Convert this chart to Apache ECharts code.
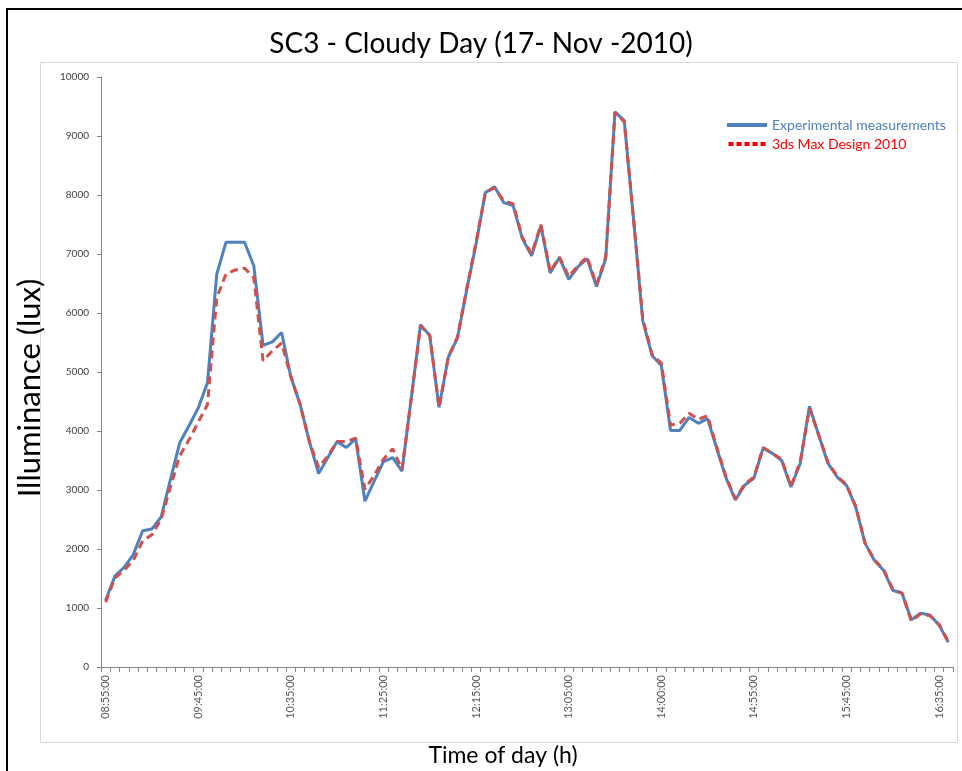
<!DOCTYPE html>
<html>
<head>
<meta charset="utf-8">
<script src="https://cdn.jsdelivr.net/npm/echarts@6/dist/echarts.min.js"></script>
<style>
  html, body { margin: 0; padding: 0; background: #fff; }
  #chart { width: 962px; height: 771px; }
</style>
</head>
<body>
<div id="chart"></div>
<script>
// time of day, one sample every ~5 min
const times = [
  '08:55:00', '09:00:00', '09:05:00', '09:10:00', '09:15:00', '09:20:00', '09:25:00', '09:30:00', '09:35:00', '09:40:00',
  '09:45:00', '09:50:00', '09:55:00', '10:00:00', '10:05:00', '10:10:00', '10:15:00', '10:20:00', '10:25:00', '10:30:00',
  '10:35:00', '10:40:00', '10:45:00', '10:50:00', '10:55:00', '11:00:00', '11:05:00', '11:10:00', '11:15:00', '11:20:00',
  '11:25:00', '11:30:00', '11:35:00', '11:40:00', '11:45:00', '11:50:00', '11:55:00', '12:00:00', '12:05:00', '12:10:00',
  '12:15:00', '12:20:00', '12:25:00', '12:30:00', '12:35:00', '12:40:00', '12:45:00', '12:50:00', '12:55:00', '13:00:00',
  '13:05:00', '13:10:00', '13:15:00', '13:20:00', '13:25:00', '13:30:00', '13:35:00', '13:40:00', '13:45:00', '13:55:00',
  '14:00:00', '14:05:00', '14:10:00', '14:15:00', '14:20:00', '14:25:00', '14:30:00', '14:35:00', '14:40:00', '14:50:00',
  '14:55:00', '15:00:00', '15:05:00', '15:10:00', '15:15:00', '15:20:00', '15:25:00', '15:30:00', '15:35:00', '15:40:00',
  '15:45:00', '15:50:00', '15:55:00', '16:00:00', '16:05:00', '16:10:00', '16:15:00', '16:20:00', '16:25:00', '16:30:00',
  '16:35:00', '16:40:00'
];

const measured = [
  1130, 1540, 1690, 1910, 2310, 2340, 2545, 3180, 3800, 4090,
  4390, 4820, 6660, 7200, 7200, 7200, 6800, 5450, 5510, 5670,
  4920, 4450, 3820, 3280, 3550, 3820, 3720, 3870, 2810, 3150,
  3480, 3550, 3320, 4550, 5800, 5620, 4400, 5250, 5580, 6400,
  7170, 8040, 8140, 7870, 7820, 7260, 6970, 7480, 6680, 6940,
  6570, 6780, 6920, 6450, 6920, 9410, 9260, 7600, 5870, 5280,
  5110, 4010, 4010, 4230, 4130, 4210, 3700, 3200, 2830, 3080,
  3200, 3710, 3620, 3500, 3050, 3450, 4420, 3930, 3450, 3220,
  3080, 2710, 2100, 1810, 1640, 1300, 1250, 800, 910, 880,
  710, 420
];

const simulated = [
  1100, 1510, 1640, 1810, 2140, 2240, 2510, 3050, 3580, 3850,
  4150, 4450, 6260, 6660, 6730, 6760, 6600, 5190, 5360, 5490,
  4920, 4450, 3820, 3380, 3580, 3820, 3820, 3880, 3010, 3250,
  3520, 3700, 3350, 4550, 5780, 5620, 4400, 5250, 5600, 6420,
  7200, 8040, 8120, 7900, 7850, 7280, 7000, 7500, 6700, 6950,
  6620, 6800, 6950, 6480, 6950, 9400, 9240, 7600, 5900, 5300,
  5150, 4100, 4130, 4300, 4200, 4260, 3720, 3220, 2850, 3100,
  3220, 3720, 3620, 3520, 3060, 3480, 4380, 3930, 3470, 3230,
  3090, 2720, 2100, 1820, 1650, 1320, 1250, 780, 900, 870,
  720, 430
];

const font = 'Lato, "Open Sans", sans-serif';
// five small squares, like the dotted legend key
const dotted = 'path://M0,0h5v4h-5z M8,0h5v4h-5z M16,0h5v4h-5z M24,0h5v4h-5z M32,0h5v4h-5z';
const chart = echarts.init(document.getElementById('chart'));

chart.setOption({
  backgroundColor: '#fff',
  animation: false,
  title: {
    text: 'SC3 - Cloudy Day (17- Nov -2010)',
    left: 'center',
    top: 25,
    textStyle: { fontFamily: font, fontSize: 28, fontWeight: 'normal', color: '#000' }
  },
  legend: {
    orient: 'vertical',
    left: 727,
    top: 118,
    padding: 0,
    itemWidth: 40,
    itemHeight: 4,
    itemGap: 5,
    textStyle: { fontFamily: font, fontSize: 14 },
    data: [
      { name: 'Experimental measurements', icon: 'rect', textStyle: { color: '#4F81BD' },
        itemStyle: { color: '#4F81BD' } },
      { name: '3ds Max Design 2010', icon: dotted, textStyle: { color: '#FF0000' },
        itemStyle: { color: '#FF0000' } }
    ]
  },
  grid: { left: 101, right: 9, top: 77, bottom: 104 },
  xAxis: {
    type: 'category',
    data: times,
    boundaryGap: true,
    axisLine: { lineStyle: { color: '#868686', width: 1 } },
    axisTick: { show: true, interval: 0, length: 5, lineStyle: { color: '#868686' } },
    axisLabel: { interval: 9, rotate: 90, margin: 8, fontFamily: font, fontSize: 11, color: '#595959' },
    splitLine: { show: false }
  },
  yAxis: {
    type: 'value',
    min: 0,
    max: 10000,
    interval: 1000,
    axisLine: { show: true, lineStyle: { color: '#868686', width: 1 } },
    axisTick: { show: true, length: 4, lineStyle: { color: '#868686' } },
    axisLabel: { margin: 12, fontFamily: font, fontSize: 10, color: '#404040', formatter: v => String(v) },
    splitLine: { show: false }
  },
  graphic: [
    // outer black frame
    { type: 'rect', shape: { x: 7, y: 9, width: 980, height: 800 }, style: { fill: 'none', stroke: '#000', lineWidth: 2 }, silent: true },
    // light plot frame
    { type: 'rect', shape: { x: 40.5, y: 62.5, width: 917, height: 680 }, style: { fill: 'none', stroke: '#D9D9D9', lineWidth: 1 }, silent: true },
    { type: 'text', x: 30, y: 388, rotation: Math.PI / 2,
      style: { text: 'Illuminance (lux)', fontFamily: font, fontSize: 31, fill: '#000', textAlign: 'center', textVerticalAlign: 'middle' } },
    { type: 'text', x: 503, y: 756,
      style: { text: 'Time of day (h)', fontFamily: font, fontSize: 23, fill: '#000', textAlign: 'center', textVerticalAlign: 'middle' } }
  ],
  series: [
    {
      name: 'Experimental measurements',
      type: 'line',
      data: measured,
      symbol: 'none',
      lineStyle: { color: '#4F81BD', width: 3 },
      itemStyle: { color: '#4F81BD' }
    },
    {
      name: '3ds Max Design 2010',
      type: 'line',
      data: simulated,
      symbol: 'none',
      lineStyle: { color: '#D0504D', width: 3, type: [8, 5] },
      itemStyle: { color: '#FF0000' }
    }
  ]
});
</script>
</body>
</html>
